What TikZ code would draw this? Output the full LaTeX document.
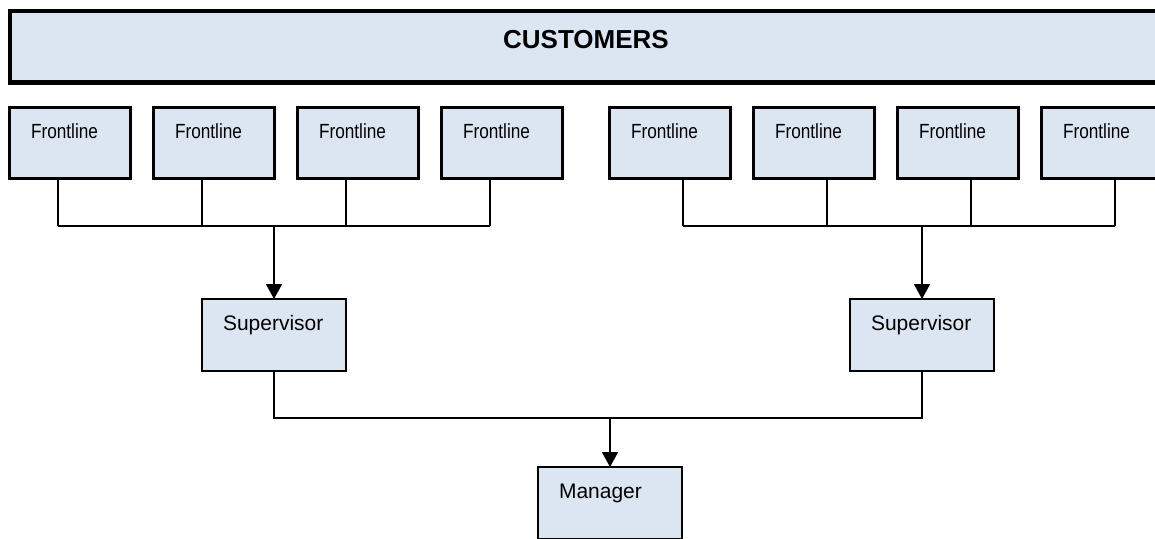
\documentclass[tikz,border=0pt]{standalone}
\usepackage{fontspec}
\setmainfont{Liberation Sans}
\newfontfamily\narrowfont[FakeStretch=0.84]{Liberation Sans}
\usetikzlibrary{arrows.meta, positioning}
\definecolor{boxblue}{HTML}{DCE6F2}
\tikzset{
  box/.style={draw, fill=boxblue, anchor=north west, outer sep=0pt, inner ysep=0pt, align=left},
  customer box/.style={box, line width=4.5pt, inner xsep=0pt, align=center,
    text width=1152pt, text height=37pt, text depth=34.5pt,
    font=\bfseries\fontsize{26pt}{30pt}\selectfont},
  front box/.style={box, line width=2.5pt, inner xsep=21.5pt, text width=78pt,
    text height=30.5pt, text depth=40.5pt, font=\narrowfont\fontsize{20.5pt}{24pt}\selectfont},
  lead box/.style={box, line width=2.5pt, inner xsep=21pt, text width=102pt,
    text height=31pt, text depth=41pt, font=\fontsize{21pt}{25pt}\selectfont},
  bus/.style={draw, line width=1.8pt},
  feed/.style={bus, -{Triangle[width=16pt, length=15pt]}}
}

\begin{document}
\begin{tikzpicture}[x=1pt, y=-1pt]
  \useasboundingbox (0,0) rectangle (1155,538);

  % Define the customer band and the frontline rows
  \node[customer box] (cust) at (10,11) {CUSTOMERS};
  \foreach \i/\x in {1/9.5, 2/153.5, 3/297.5, 4/441.5, 5/609.5, 6/753.5, 7/897.5, 8/1041.5}
    \node[front box] (f\i) at (\x,107.5) {Frontline};

  % Supervisors and manager
  \node[lead box] (sup1) at (202,299) {Supervisor};
  \node[lead box] (sup2) at (850,299) {Supervisor};
  \node[lead box] (mgr) at (538,467) {Manager};

  % Frontline drops into the two buses
  \coordinate (lbus) at (274,226);
  \coordinate (rbus) at (922,226);
  \foreach \i in {1,...,4}
    \draw[bus] ([xshift=48.5pt]f\i.south west) -- ([xshift=48.5pt]f\i.south west |- lbus) coordinate (ld\i);
  \foreach \i in {5,...,8}
    \draw[bus] ([xshift=73.5pt]f\i.south west) -- ([xshift=73.5pt]f\i.south west |- rbus) coordinate (rd\i);
  \draw[bus] (ld1) -- (ld4);
  \draw[bus] (rd5) -- (rd8);
  \draw[feed] (lbus) -- (sup1.north);
  \draw[feed] (rbus) -- (sup2.north);

  % Supervisors up to the manager
  \coordinate (mbus) at (610,418);
  \draw[bus] (sup1.south) |- (mbus) -| (sup2.south);
  \draw[feed] (mbus) -- (mgr.north);
\end{tikzpicture}
\end{document}
